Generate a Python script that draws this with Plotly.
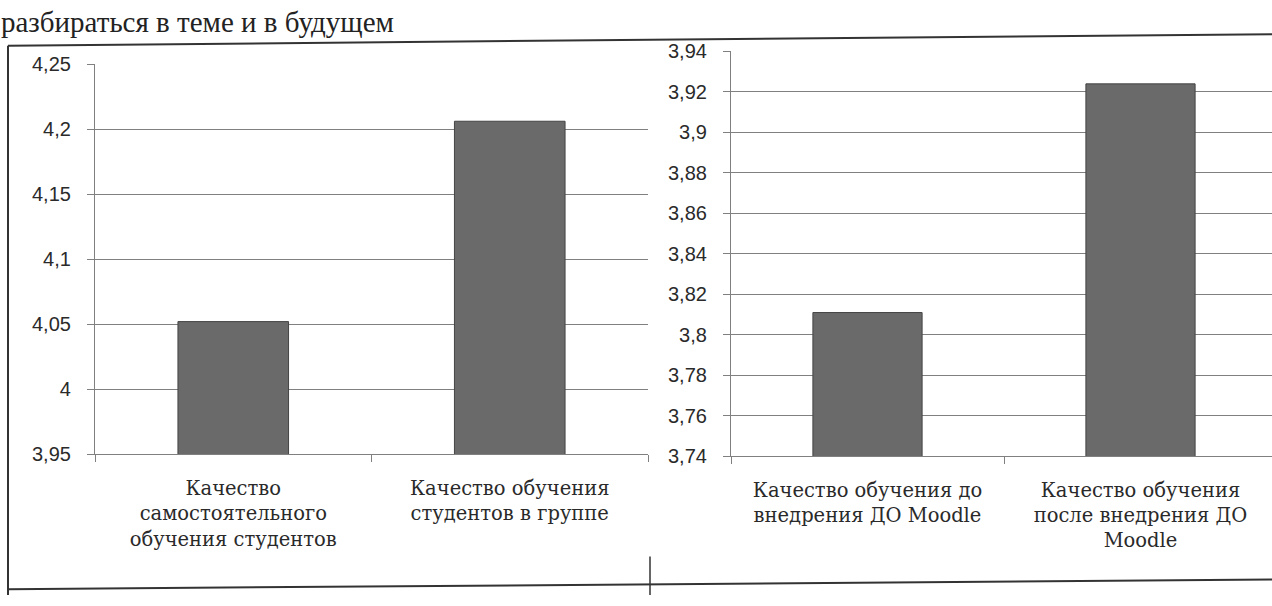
import plotly.graph_objects as go

# ---- data ----
left_categories = ["Качество<br>самостоятельного<br>обучения студентов",
                   "Качество обучения<br>студентов в группе"]
left_values = [4.052, 4.206]
left_tickvals = [3.95, 4.0, 4.05, 4.1, 4.15, 4.2, 4.25]
left_ticktext = ["3,95", "4", "4,05", "4,1", "4,15", "4,2", "4,25"]

right_categories = ["Качество обучения до<br>внедрения ДО Moodle",
                    "Качество обучения<br>после внедрения ДО<br>Moodle"]
right_values = [3.811, 3.924]
right_tickvals = [3.74, 3.76, 3.78, 3.80, 3.82, 3.84, 3.86, 3.88, 3.90, 3.92, 3.94]
right_ticktext = ["3,74", "3,76", "3,78", "3,8", "3,82", "3,84", "3,86", "3,88", "3,9", "3,92", "3,94"]

page_text = "разбираться в теме и в будущем"

W, H = 1272, 606
def px(x): return x / W
def py(y): return 1 - y / H

BAR = "#6a6a6a"
GRID = "#808080"
TXT = "#2a2a2a"

fig = go.Figure()
fig.add_trace(go.Bar(x=left_categories, y=left_values, width=0.4,
                     marker=dict(color=BAR, line=dict(color="#444444", width=1)),
                     xaxis="x", yaxis="y", showlegend=False))
fig.add_trace(go.Bar(x=right_categories, y=right_values, width=0.4,
                     marker=dict(color=BAR, line=dict(color="#444444", width=1)),
                     xaxis="x2", yaxis="y2", showlegend=False))

xcommon = dict(type="category", showgrid=False, showline=True, linecolor=GRID, linewidth=1.2,
               ticks="outside", ticklen=7, tickcolor=GRID, tickson="boundaries",
               tickfont=dict(family="DejaVu Serif", size=19.5, color=TXT),
               ticklabelstandoff=16, fixedrange=True, tickangle=0)
ycommon = dict(showgrid=True, gridcolor=GRID, gridwidth=1.2, showline=True, linecolor=GRID,
               linewidth=1.2, ticks="outside", ticklen=7, tickcolor=GRID, zeroline=False,
               tickfont=dict(family="Liberation Sans", size=20, color=TXT),
               ticklabelstandoff=12, fixedrange=True)

fig.update_layout(
    width=W, height=H,
    margin=dict(l=0, r=0, t=0, b=0),
    paper_bgcolor="white", plot_bgcolor="white",
    xaxis=dict(xcommon, domain=[px(95), px(648)], range=[-0.5, 1.5], anchor="y"),
    yaxis=dict(ycommon, domain=[py(460), py(55)], range=[3.95, 4.25],
               tickvals=left_tickvals, ticktext=left_ticktext, anchor="x"),
    xaxis2=dict(xcommon, domain=[px(731), 1.0],
                range=[-0.5, -0.5 + (W - 731) / 273.0], anchor="y2"),
    yaxis2=dict(ycommon, domain=[py(462), py(42)], range=[3.74, 3.94],
                tickvals=right_tickvals, ticktext=right_ticktext, anchor="x2"),
    shapes=[
        dict(type="line", xref="paper", yref="paper", x0=px(8), y0=py(36), x1=1.0, y1=py(24),
             line=dict(color="#333333", width=2)),
        dict(type="line", xref="paper", yref="paper", x0=px(8), y0=py(36), x1=px(8), y1=0,
             line=dict(color="#333333", width=2)),
        dict(type="line", xref="paper", yref="paper", x0=px(650), y0=py(566), x1=px(650), y1=0,
             line=dict(color="#333333", width=1.5)),
        dict(type="line", xref="paper", yref="paper", x0=px(8), y0=py(600), x1=1.0, y1=py(590),
             line=dict(color="#333333", width=2)),
    ],
    annotations=[
        dict(text=page_text, xref="paper", yref="paper", x=0.0, y=1.0,
             xanchor="left", yanchor="top", showarrow=False, borderpad=0, yshift=6,
             font=dict(family="Liberation Serif", size=29, color="#222222")),
    ],
)

fig.write_html("out.html")
